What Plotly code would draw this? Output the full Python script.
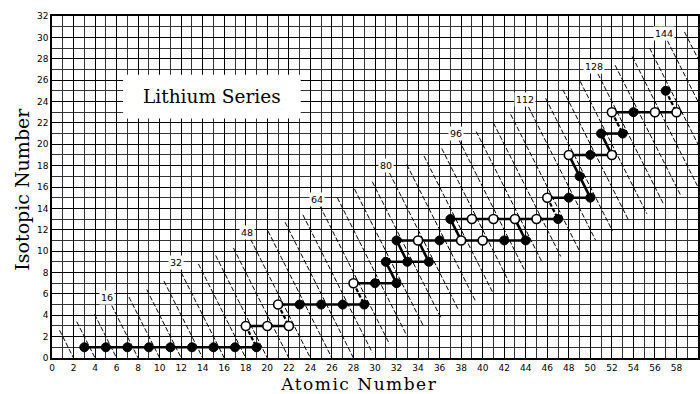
import plotly.graph_objects as go

# ---- data ----
filled_z = [3, 5, 7, 9, 11, 13, 15, 17, 19, 23, 25, 27, 29, 30, 32, 31, 33, 35,
            32, 36, 42, 44, 37, 47, 48, 50, 49, 50, 51, 53, 54, 57]
filled_n = [1, 1, 1, 1, 1, 1, 1, 1, 1, 5, 5, 5, 5, 7, 7, 9, 9, 9,
            11, 11, 11, 11, 13, 13, 15, 15, 17, 19, 21, 21, 23, 25]
open_z = [18, 20, 22, 21, 28, 34, 38, 40, 39, 41, 43, 45, 46, 48, 52, 52, 56, 58]
open_n = [3, 3, 3, 5, 7, 11, 11, 11, 13, 13, 13, 13, 15, 19, 19, 23, 23, 23]

# horizontal chains: (isotopic number, first Z, last Z)
row_n = [1, 3, 5, 7, 9, 11, 13, 15, 19, 21, 23]
row_z0 = [3, 18, 21, 28, 31, 32, 37, 46, 48, 51, 52]
row_z1 = [19, 22, 29, 32, 35, 44, 47, 50, 52, 53, 58]

# solid diagonal links (z0, n0, z1, n1)
solid_z0 = [31, 32, 34, 37, 43, 48, 51]
solid_n0 = [9, 11, 11, 13, 13, 19, 21]
solid_z1 = [32, 33, 35, 38, 44, 50, 52]
solid_n1 = [7, 9, 9, 11, 11, 15, 19]

# dashed diagonal links
dash_z0 = [18, 21, 28, 46, 52, 57]
dash_n0 = [3, 5, 7, 15, 23, 25]
dash_z1 = [19, 22, 29, 47, 53, 58]
dash_n1 = [1, 3, 5, 13, 21, 23]

# lines of constant atomic weight A (n = A - 2Z): top and bottom isotopic number
iso_A = [4, 8, 12, 16, 20, 24, 28, 32, 36, 40, 44, 48, 52, 56, 60, 64, 68, 72, 76,
         80, 84, 88, 92, 96, 100, 104, 108, 112, 116, 120, 124, 128, 132, 136, 140,
         144, 148]
iso_top = [2.6, 3.4, 4.1, 4.9, 5.7, 6.4, 7.2, 8.0, 8.8, 9.6, 10.3, 11.1, 11.9, 12.7,
           13.4, 14.2, 15.0, 15.8, 16.5, 17.3, 18.1, 18.9, 19.6, 20.4, 21.2, 22.0,
           22.8, 23.5, 24.3, 25.1, 25.9, 26.6, 27.4, 28.2, 29.0, 29.7, 30.5]
iso_low = [0, 0, 0, 0, 0, 0, 0, 0, 0, 0, 0, 0, 0, 0, 0.5, 1.3, 2.1, 3.0, 3.8,
           4.6, 5.4, 6.2, 7.0, 8.0, 8.9, 9.5, 10.1, 11.0, 11.9, 12.8, 13.5, 14.4,
           15.3, 16.1, 16.9, 17.7, 18.5]
label_A = [16, 32, 48, 64, 80, 96, 112, 128, 144]
label_n = [5.7, 8.9, 11.7, 14.8, 18.0, 21.0, 24.2, 27.3, 30.4]

x_ticks = list(range(0, 61, 2))
y_ticks = list(range(0, 33, 2))

fig = go.Figure()

# constant-weight lines
for A, nt, nl in zip(iso_A, iso_top, iso_low):
    fig.add_trace(go.Scatter(x=[(A - nt) / 2, (A - nl) / 2], y=[nt, nl], mode="lines",
                             line=dict(color="black", width=1, dash="5px,2px"),
                             hoverinfo="skip", showlegend=False))

# horizontal chains
for n, z0, z1 in zip(row_n, row_z0, row_z1):
    fig.add_trace(go.Scatter(x=[z0, z1], y=[n, n], mode="lines",
                             line=dict(color="black", width=2.6),
                             hoverinfo="skip", showlegend=False))
for z0, n0, z1, n1 in zip(solid_z0, solid_n0, solid_z1, solid_n1):
    fig.add_trace(go.Scatter(x=[z0, z1], y=[n0, n1], mode="lines",
                             line=dict(color="black", width=2.6),
                             hoverinfo="skip", showlegend=False))
for z0, n0, z1, n1 in zip(dash_z0, dash_n0, dash_z1, dash_n1):
    fig.add_trace(go.Scatter(x=[z0, z1], y=[n0, n1], mode="lines",
                             line=dict(color="black", width=2.2, dash="4px,2px"),
                             hoverinfo="skip", showlegend=False))

fig.add_trace(go.Scatter(x=filled_z, y=filled_n, mode="markers",
                         marker=dict(size=9, color="black", line=dict(color="black", width=1)),
                         showlegend=False))
fig.add_trace(go.Scatter(x=open_z, y=open_n, mode="markers",
                         marker=dict(size=9, color="white", line=dict(color="black", width=1.6)),
                         showlegend=False))

for A, n in zip(label_A, label_n):
    fig.add_annotation(x=(A - n) / 2, y=n, text=str(A), showarrow=False,
                       font=dict(family="DejaVu Sans", size=9.5, color="black"),
                       bgcolor="white", borderpad=1)

# title box
fig.add_shape(type="rect", x0=6.6, x1=23.1, y0=22.4, y1=26.5, layer="between",
              fillcolor="white", line=dict(width=0))
fig.add_annotation(x=14.85, y=24.45, text="Lithium Series", showarrow=False,
                   font=dict(family="DejaVu Serif", size=18.5, color="black"))

fig.add_annotation(xref="paper", yref="paper", x=0.475, y=-0.044, text="Atomic Number",
                   showarrow=False, yanchor="top", borderpad=0,
                   font=dict(family="DejaVu Serif", size=17, color="black"))
fig.add_annotation(xref="paper", yref="paper", x=-0.047, y=0.494, text="Isotopic Number",
                   showarrow=False, textangle=-90, xanchor="center", yanchor="middle",
                   font=dict(family="DejaVu Serif", size=19, color="black"))

axis_common = dict(showgrid=True, gridcolor="black", gridwidth=1.2, zeroline=False,
                   showline=True, linecolor="black", linewidth=1.5, mirror=True,
                   ticks="", tickfont=dict(family="DejaVu Sans", size=9, color="black"))
fig.update_xaxes(range=[0, 60], tickvals=x_ticks, ticktext=[str(v) for v in x_ticks],
                 minor=dict(dtick=1, tick0=0, showgrid=True, gridcolor="#333", gridwidth=0.9),
                 **axis_common)
fig.update_yaxes(range=[0, 32], tickvals=y_ticks, ticktext=[str(v) for v in y_ticks],
                 minor=dict(dtick=1, tick0=0, showgrid=True, gridcolor="#333", gridwidth=0.9),
                 **axis_common)

fig.update_layout(width=700, height=394, margin=dict(l=52, r=0, t=16, b=36),
                  plot_bgcolor="white", paper_bgcolor="white", showlegend=False)

post = """
document.body.style.margin='0';document.body.style.overflow='hidden';
document.querySelectorAll('.annotation-text').forEach(function(t){
  if (t.textContent === 'Atomic Number') { t.style.letterSpacing = '1.5px'; }
});
"""
fig.write_html("out.html", config={"displayModeBar": False}, post_script=post)
